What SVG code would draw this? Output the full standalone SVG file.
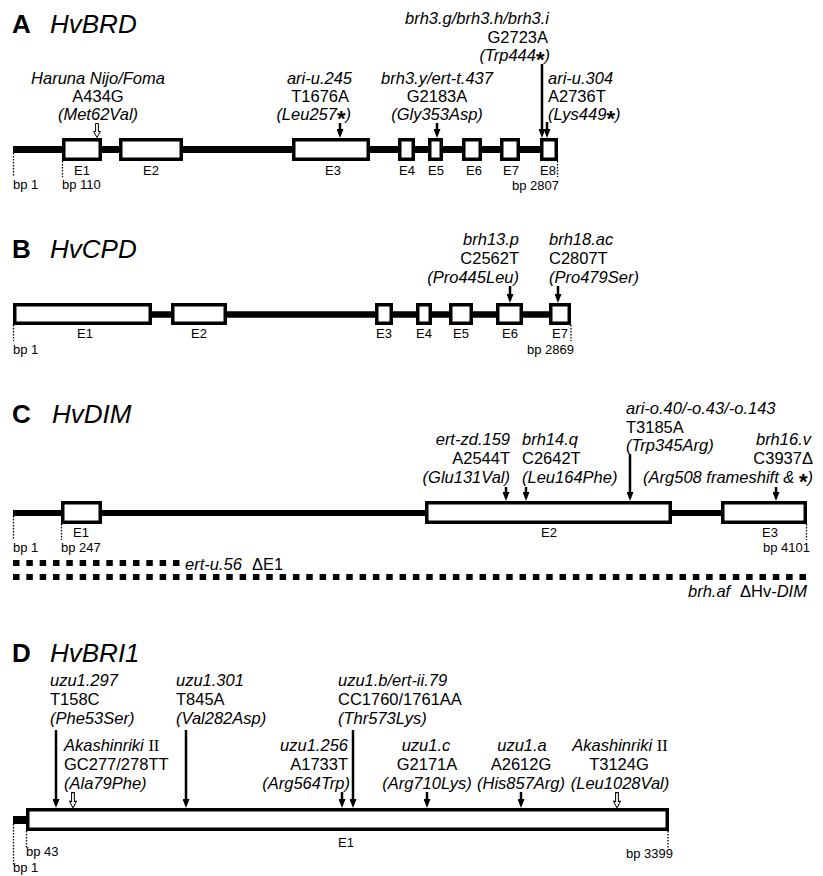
<svg xmlns="http://www.w3.org/2000/svg" width="823" height="876" viewBox="0 0 823 876">
<style>
text{font-family:"Liberation Sans",Arial,sans-serif;fill:#000}
.t{font-size:16.5px}
.i{font-style:italic}
.s{font-size:13px}
.ttl{font-size:26px;font-style:italic}
.let{font-size:26px;font-weight:bold}
.st{font-weight:bold;font-size:22px;font-style:normal}
.rn{font-family:"Liberation Serif","Times New Roman",serif;font-style:normal}
.intron{stroke:#000;stroke-width:7}
.exon{fill:#fff;stroke:#000;stroke-width:3.5}
.dot{stroke:#000;stroke-width:1.3;stroke-dasharray:1.6 1.4}
.arr{stroke:#000;stroke-width:2.5;marker-end:url(#ah)}
.hol{fill:#fff;stroke:#000;stroke-width:1}
.sq{stroke:#000;stroke-width:6;stroke-dasharray:6.5 6.83}
.m{text-anchor:middle}
.e{text-anchor:end}
</style>
<defs>
<marker id="ah" markerUnits="userSpaceOnUse" markerWidth="9" markerHeight="7" viewBox="0 0 9 7" refX="2" refY="3.5" orient="auto"><path d="M0,0 L9,3.5 L0,7 z" fill="#000"/></marker>
<path id="hollow" d="M-1.4,-14 h2.8 v8 h2 l-3.4,6 l-3.4,-6 h2 z"/>
</defs>

<!-- Panel A -->
<g id="panelA">
<text class="let" x="12" y="33">A</text>
<text class="ttl" x="50" y="33">HvBRD</text>
<line id="A-intron" class="intron" x1="13" y1="149.5" x2="558" y2="149.5"/>
<g id="A-E1"><rect class="exon" x="63.75" y="139.75" width="36.5" height="19.5"/><text class="s m" x="82" y="175">E1</text></g>
<g id="A-E2"><rect class="exon" x="120.75" y="139.75" width="60.5" height="19.5"/><text class="s m" x="151" y="175">E2</text></g>
<g id="A-E3"><rect class="exon" x="293.75" y="139.75" width="74.5" height="19.5"/><text class="s m" x="333" y="175">E3</text></g>
<g id="A-E4"><rect class="exon" x="399.75" y="139.75" width="13.5" height="19.5"/><text class="s m" x="407" y="175">E4</text></g>
<g id="A-E5"><rect class="exon" x="429.75" y="139.75" width="11.5" height="19.5"/><text class="s m" x="436" y="175">E5</text></g>
<g id="A-E6"><rect class="exon" x="463.75" y="139.75" width="16.5" height="19.5"/><text class="s m" x="474" y="175">E6</text></g>
<g id="A-E7"><rect class="exon" x="501.75" y="139.75" width="16.5" height="19.5"/><text class="s m" x="511" y="175">E7</text></g>
<g id="A-E8"><rect class="exon" x="541.75" y="139.75" width="14.5" height="19.5"/><text class="s m" x="548" y="175">E8</text></g>
<line class="dot" x1="13.5" y1="153" x2="13.5" y2="177"/>
<line class="dot" x1="62.5" y1="161" x2="62.5" y2="177"/>
<line class="dot" x1="557.5" y1="161" x2="557.5" y2="177"/>
<text class="s" x="13" y="189">bp 1</text>
<text class="s" x="62" y="189">bp 110</text>
<text class="s e" x="559" y="190">bp 2807</text>
<g id="A-m1"><text class="t m" x="98"><tspan class="i" x="98" y="84">Haruna Nijo/Foma</tspan><tspan x="98" y="102">A434G</tspan><tspan class="i" x="98" y="120">(Met62Val)</tspan></text></g>
<g id="A-m2"><text class="t e"><tspan class="i" x="352" y="84">ari-u.245</tspan><tspan x="349" y="102">T1676A</tspan><tspan class="i" x="351" y="120">(Leu257<tspan class="st" dy="6">*</tspan><tspan dy="-6">)</tspan></tspan></text></g>
<g id="A-m3"><text class="t m"><tspan class="i" x="437" y="84">brh3.y/ert-t.437</tspan><tspan x="437" y="102">G2183A</tspan><tspan class="i" x="437" y="120">(Gly353Asp)</tspan></text></g>
<g id="A-m4"><text class="t e"><tspan class="i" x="549" y="24">brh3.g/brh3.h/brh3.i</tspan><tspan x="548" y="43">G2723A</tspan><tspan class="i" x="550" y="61">(Trp444<tspan class="st" dy="6">*</tspan><tspan dy="-6">)</tspan></tspan></text></g>
<g id="A-m5"><text class="t"><tspan class="i" x="548" y="84">ari-u.304</tspan><tspan x="548" y="102">A2736T</tspan><tspan class="i" x="548" y="120">(Lys449<tspan class="st" dy="6">*</tspan><tspan dy="-6">)</tspan></tspan></text></g>
</g>

<!-- Panel B -->
<g id="panelB">
<text class="let" x="12" y="258">B</text>
<text class="ttl" x="50" y="258">HvCPD</text>
<line id="B-intron" class="intron" x1="13" y1="314.5" x2="571" y2="314.5" style="stroke-width:6.5"/>
<g id="B-E1"><rect class="exon" x="14.75" y="304.75" width="135.5" height="18.5"/><text class="s m" x="85" y="338">E1</text></g>
<g id="B-E2"><rect class="exon" x="172.75" y="304.75" width="52.5" height="18.5"/><text class="s m" x="199" y="338">E2</text></g>
<g id="B-E3"><rect class="exon" x="376.75" y="304.75" width="14.5" height="18.5"/><text class="s m" x="384" y="338">E3</text></g>
<g id="B-E4"><rect class="exon" x="417.75" y="304.75" width="12.5" height="18.5"/><text class="s m" x="424" y="338">E4</text></g>
<g id="B-E5"><rect class="exon" x="450.75" y="304.75" width="20.5" height="18.5"/><text class="s m" x="461" y="338">E5</text></g>
<g id="B-E6"><rect class="exon" x="497.75" y="304.75" width="23.5" height="18.5"/><text class="s m" x="510" y="338">E6</text></g>
<g id="B-E7"><rect class="exon" x="550.75" y="304.75" width="18.5" height="18.5"/><text class="s m" x="560" y="338">E7</text></g>
<line class="dot" x1="13.5" y1="325" x2="13.5" y2="341"/>
<line class="dot" x1="571" y1="325" x2="571" y2="341"/>
<text class="s" x="13" y="354">bp 1</text>
<text class="s e" x="574" y="354">bp 2869</text>
<g id="B-m1"><text class="t e"><tspan class="i" x="519" y="245">brh13.p</tspan><tspan x="519" y="264">C2562T</tspan><tspan class="i" x="519" y="283">(Pro445Leu)</tspan></text></g>
<g id="B-m2"><text class="t"><tspan class="i" x="549" y="245">brh18.ac</tspan><tspan x="549" y="264">C2807T</tspan><tspan class="i" x="549" y="283">(Pro479Ser)</tspan></text></g>
</g>

<!-- Panel C -->
<g id="panelC">
<text class="let" x="12" y="423">C</text>
<text class="ttl" x="52" y="423">HvDIM</text>
<line id="C-intron" class="intron" x1="13" y1="513" x2="807" y2="513" style="stroke-width:6"/>
<g id="C-E1"><rect class="exon" x="62.75" y="502.75" width="37.5" height="19.5"/><text class="s m" x="81" y="537">E1</text></g>
<g id="C-E2"><rect class="exon" x="426.75" y="502.75" width="243.5" height="19.5"/><text class="s m" x="549" y="537">E2</text></g>
<g id="C-E3"><rect class="exon" x="722.75" y="502.75" width="82.5" height="19.5"/><text class="s m" x="770" y="537">E3</text></g>
<line class="dot" x1="13.5" y1="516" x2="13.5" y2="540"/>
<line class="dot" x1="61.5" y1="524" x2="61.5" y2="540"/>
<line class="dot" x1="806.5" y1="524" x2="806.5" y2="540"/>
<text class="s" x="13" y="552">bp 1</text>
<text class="s" x="61" y="552">bp 247</text>
<text class="s e" x="810" y="552">bp 4101</text>
<g id="C-del1"><line class="sq" x1="13" y1="563" x2="182" y2="563"/><text class="t" x="185" y="570"><tspan class="i">ert-u.56</tspan><tspan x="252">ΔE1</tspan></text></g>
<g id="C-del2"><line class="sq" x1="13" y1="577" x2="808" y2="577"/><text class="t" y="597"><tspan class="i" x="688">brh.af</tspan><tspan x="740">ΔHv-</tspan><tspan class="i">DIM</tspan></text></g>
<g id="C-m1"><text class="t e"><tspan class="i" x="510" y="445">ert-zd.159</tspan><tspan x="510" y="464">A2544T</tspan><tspan class="i" x="510" y="483">(Glu131Val)</tspan></text></g>
<g id="C-m2"><text class="t"><tspan class="i" x="522" y="445">brh14.q</tspan><tspan x="522" y="464">C2642T</tspan><tspan class="i" x="522" y="483">(Leu164Phe)</tspan></text></g>
<g id="C-m3"><text class="t"><tspan class="i" x="626" y="414">ari-o.40/-o.43/-o.143</tspan><tspan x="626" y="433">T3185A</tspan><tspan class="i" x="626" y="451">(Trp345Arg)</tspan></text></g>
<g id="C-m4"><text class="t e"><tspan class="i" x="811" y="445">brh16.v</tspan><tspan x="813" y="464">C3937Δ</tspan><tspan class="i" x="813" y="483">(Arg508 frameshift &amp; <tspan class="st" dy="6">*</tspan><tspan dy="-6">)</tspan></tspan></text></g>
</g>

<!-- Panel D -->
<g id="panelD">
<text class="let" x="12" y="662">D</text>
<text class="ttl" x="50" y="662">HvBRI1</text>
<line id="D-utr" class="intron" x1="13" y1="820" x2="27" y2="820" style="stroke-width:8"/>
<g id="D-E1"><rect class="exon" x="27.75" y="809.75" width="639.5" height="19.5"/><text class="s m" x="346" y="847">E1</text></g>
<line class="dot" x1="13.5" y1="824" x2="13.5" y2="866"/>
<line class="dot" x1="26.5" y1="831" x2="26.5" y2="849"/>
<line class="dot" x1="668" y1="831" x2="668" y2="849"/>
<text class="s" x="26" y="856">bp 43</text>
<text class="s" x="13" y="872">bp 1</text>
<text class="s e" x="673" y="858">bp 3399</text>
<g id="D-m1"><text class="t"><tspan class="i" x="50" y="686">uzu1.297</tspan><tspan x="50" y="705">T158C</tspan><tspan class="i" x="50" y="724">(Phe53Ser)</tspan></text></g>
<g id="D-m2"><text class="t"><tspan class="i" x="176" y="686">uzu1.301</tspan><tspan x="176" y="705">T845A</tspan><tspan class="i" x="176" y="724">(Val282Asp)</tspan></text></g>
<g id="D-m3"><text class="t"><tspan class="i" x="338" y="686">uzu1.b/ert-ii.79</tspan><tspan x="338" y="705">CC1760/1761AA</tspan><tspan class="i" x="338" y="724">(Thr573Lys)</tspan></text></g>
<g id="D-m4"><text class="t"><tspan class="i" x="64" y="751">Akashinriki <tspan class="rn">II</tspan></tspan><tspan x="64" y="770">GC277/278TT</tspan><tspan class="i" x="64" y="789">(Ala79Phe)</tspan></text></g>
<g id="D-m5"><text class="t e"><tspan class="i" x="348" y="751">uzu1.256</tspan><tspan x="348" y="770">A1733T</tspan><tspan class="i" x="350" y="789">(Arg564Trp)</tspan></text></g>
<g id="D-m6"><text class="t m"><tspan class="i" x="426" y="751">uzu1.c</tspan><tspan x="427" y="770">G2171A</tspan><tspan class="i" x="427" y="789">(Arg710Lys)</tspan></text></g>
<g id="D-m7"><text class="t m"><tspan class="i" x="522" y="751">uzu1.a</tspan><tspan x="521" y="770">A2612G</tspan><tspan class="i" x="521" y="789">(His857Arg)</tspan></text></g>
<g id="D-m8"><text class="t m"><tspan class="i" x="620" y="751">Akashinriki <tspan class="rn">II</tspan></tspan><tspan x="619" y="770">T3124G</tspan><tspan class="i" x="620" y="789">(Leu1028Val)</tspan></text></g>
</g>

<!-- Connectors -->
<g id="connectors">
<use href="#hollow" class="hol" transform="translate(97,137.5)"/>
<line class="arr" x1="340" y1="123" x2="340" y2="131"/>
<line class="arr" x1="437" y1="123" x2="437" y2="131"/>
<line class="arr" x1="542" y1="64" x2="542" y2="131"/>
<line class="arr" x1="547" y1="122" x2="547" y2="131"/>
<line class="arr" x1="510" y1="286" x2="510" y2="296"/>
<line class="arr" x1="558" y1="286" x2="558" y2="296"/>
<line class="arr" x1="506" y1="487" x2="506" y2="494"/>
<line class="arr" x1="526" y1="487" x2="526" y2="494"/>
<line class="arr" x1="630" y1="454" x2="630" y2="494"/>
<line class="arr" x1="776" y1="487" x2="776" y2="494"/>
<line class="arr" x1="56" y1="730" x2="56" y2="801"/>
<line class="arr" x1="186" y1="730" x2="186" y2="801"/>
<line class="arr" x1="353" y1="730" x2="353" y2="801"/>
<use href="#hollow" class="hol" transform="translate(73,808) scale(1,1.1)"/>
<line class="arr" x1="342" y1="792" x2="342" y2="801"/>
<line class="arr" x1="427" y1="792" x2="427" y2="801"/>
<line class="arr" x1="521" y1="792" x2="521" y2="801"/>
<use href="#hollow" class="hol" transform="translate(617,808) scale(1,1.1)"/>
</g>
</svg>
